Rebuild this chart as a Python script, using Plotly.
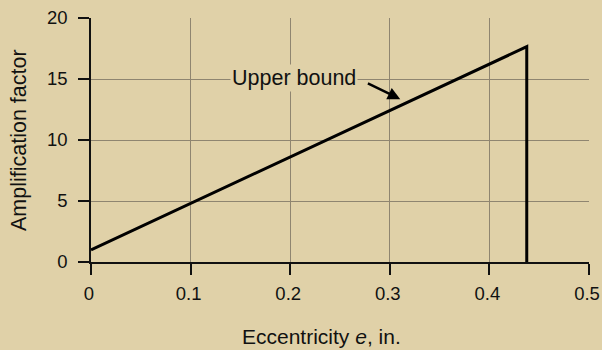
import plotly.graph_objects as go

# Data
ecc = [0.0, 0.4375, 0.4375]
amp = [1.0, 17.65, 0.0]
x_ticks = [0, 0.1, 0.2, 0.3, 0.4, 0.5]
x_tick_labels = ["0", "0.1", "0.2", "0.3", "0.4", "0.5"]
y_ticks = [0, 5, 10, 15, 20]
label_text = "Upper bound"
label_pos = (0.2035, 15.1)
arrow_head = (0.3105, 13.35)
arrow_tail = (0.2765, 14.7)

BG = "#E0D1A8"
FONT = "Liberation Sans, Arial, sans-serif"

fig = go.Figure()
fig.add_trace(go.Scatter(x=ecc, y=amp, mode="lines",
                         line=dict(color="black", width=3), showlegend=False,
                         cliponaxis=False))

fig.add_annotation(x=label_pos[0], y=label_pos[1], text=label_text, showarrow=False,
                   font=dict(size=21.5, color="#111", family=FONT),
                   bgcolor=BG, xref="x", yref="y")
fig.add_annotation(x=arrow_head[0], y=arrow_head[1], ax=arrow_tail[0], ay=arrow_tail[1],
                   axref="x", ayref="y", xref="x", yref="y", text="",
                   showarrow=True, arrowhead=2, arrowsize=1, arrowwidth=2.5,
                   arrowcolor="black", standoff=0, startstandoff=0)

fig.add_annotation(x=0.463, y=0, xref="paper", yref="paper", yshift=-74,
                   text="Eccentricity <i>e</i>, in.", showarrow=False,
                   font=dict(size=21, color="#111", family=FONT), yanchor="middle")
fig.add_annotation(x=0, y=0.5, xref="paper", yref="paper", xshift=-72,
                   text="Amplification factor", showarrow=False, textangle=-90,
                   font=dict(size=21.5, color="#111", family=FONT),
                   xanchor="center", yanchor="middle")

fig.update_layout(
    width=602, height=350,
    margin=dict(l=91, r=13, t=18, b=88, autoexpand=False),
    paper_bgcolor=BG, plot_bgcolor=BG,
    font=dict(family=FONT, size=18.5, color="#111"),
    xaxis=dict(range=[0, 0.5], tickvals=x_ticks, ticktext=x_tick_labels,
               showgrid=True, gridcolor="#8f8570", gridwidth=1,
               showline=True, linecolor="#111", linewidth=1.5,
               ticks="outside", ticklen=11, tickcolor="#111", tickwidth=1.5,
               ticklabeloverflow="allow", ticklabelstandoff=3, ticklabelshift=-2,
               automargin=False, zeroline=False, fixedrange=True),
    yaxis=dict(range=[0, 20], tickvals=y_ticks,
               showgrid=True, gridcolor="#8f8570", gridwidth=1,
               showline=True, linecolor="#111", linewidth=1.5,
               ticks="outside", ticklen=11, tickcolor="#111", tickwidth=1.5,
               ticklabelstandoff=7, automargin=False,
               zeroline=False, fixedrange=True),
)

fig.write_html("out.html", config={"displayModeBar": False},
               post_script="document.body.style.margin='0';")
